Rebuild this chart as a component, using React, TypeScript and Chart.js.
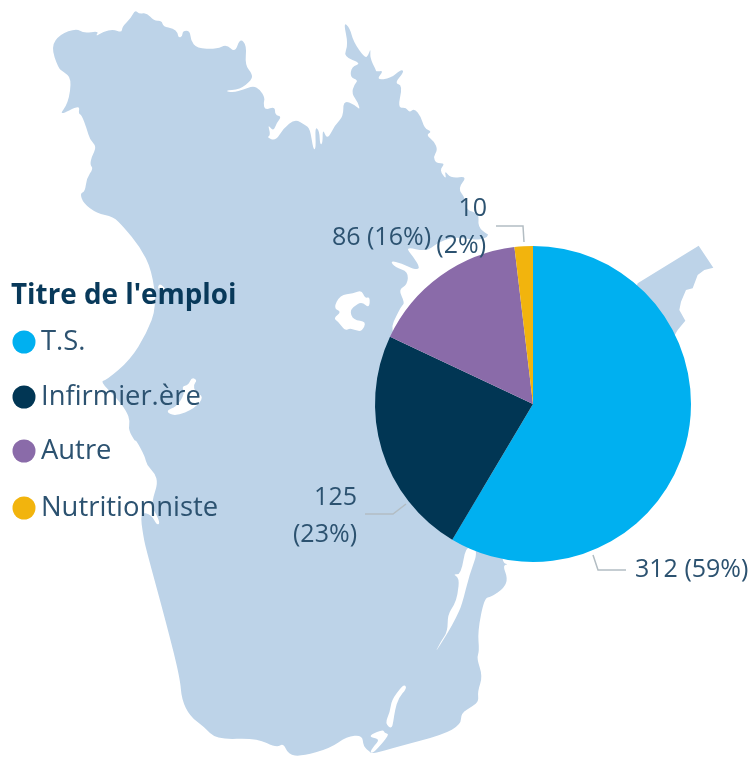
import React, { useEffect, useRef } from "react";
import { Chart, registerables } from "chart.js";

Chart.register(...registerables);

const categories = ["T.S.", "Infirmier.ère", "Autre", "Nutritionniste"];
const values = [312, 125, 86, 10];
const colors = ["#00B0F0", "#013654", "#8A6BA9", "#F2B40D"];
const legendTitle = "Titre de l'emploi";

const MAP_COLOR = "#BDD3E8";
const TEXT_COLOR = "#2C5270";
const TITLE_COLOR = "#08395A";
const LEADER_COLOR = "#B3BDC3";
const FONT = '"Open Sans"';

type P = [number, number];
// Background silhouette, traced at 3x from crops: each run has a crop origin.
const run = (ox: number, oy: number, pts: number[]): P[] => {
  const out: P[] = [];
  for (let i = 0; i < pts.length; i += 2) out.push([ox + pts[i] / 3, oy + pts[i + 1] / 3]);
  return out;
};

const mainland: P[] = [
  ...run(0, 0, [153,140,180,103,230,85,250,100,298,93,285,110,310,95,340,88,365,98,367,80,392,55,405,30,418,42,440,38,462,63,485,62,490,80,520,85,533,98,535,113,547,110,548,92,570,92,572,120,590,145,650,147,680,133,705,158,720,115,740,135,735,195,757,222,755,240,720,268,672,272,700,278,730,268,760,258,780,268,795,295,790,310,795,330,825,320,825,345,845,350,830,368,820,395,803,372,812,405,800,413,828,422,850,385,885,357,915,375,930,385,940,450,948,445,945,380,958,392,960,435,968,430,968,385,982,420,1005,375,1030,350,1030,300,1065,315,1080,330,1075,310,1055,280,1062,255,1075,240,1050,232,1055,200,1085,190,1030,170,1045,135,1030,65,1050,85,1060,125,1095,175,1105,165,1112,145,1110,175,1128,210]),
  ...run(376, 0, [0,215,24,212,0,240,45,235,75,208,85,215,55,250,80,255,65,325,90,322,100,338,115,325,135,350,145,385,168,395,150,405,175,425,185,450,172,470,180,490,208,490,190,510,212,540,205,510,225,535,275,528,245,565,268,595,270,630,310,640,305,680,335,705]),
  ...run(330, 190, [475,130,470,145,430,150,370,140,320,160,290,185,225,170,250,200,272,237,250,237,215,220,180,212,195,232,235,245,232,285,205,298,225,340,212,350,170,440]),
  [450, 400],
  [500, 540],
  ...run(376, 378, [380,556,398,558,380,562,395,600,385,630,345,657,325,660,305,760,310,820,302,840,320,895,305,940,308,970,290,985,255,1005,255,1040,200,1070,70,1105]),
  ...run(330, 640, [125,342,120,335,100,320,97,285,50,290,0,325]),
  ...run(0, 378, [905,1135,865,1130,850,1095,830,1110,770,1080,650,1085,610,1045,570,1015,545,965,540,900,500,740,440,520]),
  ...run(110, 440, [100,290,90,215,125,225,140,255,150,250,140,225,125,200,130,170,143,130,135,100,110,75,105,50,78,0]),
  ...run(0, 378, [405,190,385,155,390,130,380,100,350,60,300,10]),
  ...run(0, 0, [320,1140,390,1080,440,1000,470,920,455,810,420,740,370,680,340,650,290,640,250,610,240,580,255,575,260,535,280,505,270,495,275,470,290,440,270,420,260,385,245,345,235,340,240,315,175,348,205,310,215,235,190,215,175,205]),
];

const gaspe: P[] = [
  ...run(376, 0, [785,850,968,737,1012,803,985,810,965,825,950,865,930,870,915,905,910,930,928,962,905,990,870,1050,700,1100]),
];

const holes: P[][] = [
  run(0, 0, [1000,925,1020,885,1060,880,1085,870,1095,895,1110,890,1108,925,1085,905,1060,920,1050,935,1060,960,1100,965,1085,995,1065,990,1050,985,1035,992,1015,965,1000,955,1025,935]),
  run(140, 350, [155,82,172,90,160,105,165,125,192,140,165,175,105,200,75,183,110,170,135,130,125,110,145,105]),
  run(0, 0, [478,848,500,870,472,870]),
  run(376, 378, [270,500,308,515,280,590,258,680,240,720,215,765,175,828,195,790,215,760,215,710,235,680,245,650,250,600,230,588,255,590]),
  run(330, 640, [225,135,215,140,185,180,180,215,165,250,185,267,190,245,195,210,205,175,230,145]),
  run(330, 640, [120,337,130,320,150,298,122,292,122,284,160,268,163,280,180,282,130,340]),
];

const total = values.reduce((a, b) => a + b, 0);
const pct = (v: number) => `(${Math.round((v / total) * 100)}%)`;

// Label placement relative to the pie centre.
const labelLayout: { lines: { dx: number; dy: number; align: CanvasTextAlign }[]; split: boolean; leader: P[] }[] = [
  { split: false, lines: [{ dx: 102, dy: 166, align: "left" }], leader: [[60, 151], [65, 166], [93, 166]] },
  { split: true, lines: [{ dx: -176, dy: 94, align: "right" }, { dx: -176, dy: 131, align: "right" }], leader: [[-127, 100], [-140, 110], [-168, 110]] },
  { split: false, lines: [{ dx: -102, dy: -166, align: "right" }], leader: [] },
  { split: true, lines: [{ dx: -46, dy: -195, align: "right" }, { dx: -47, dy: -158, align: "right" }], leader: [[-9, -162], [-10, -178], [-37, -178]] },
];

const legendRowsY = [342, 397, 451, 508];
const legendTitleY = 296;

const fillPoly = (ctx: CanvasRenderingContext2D, pts: P[], color: string, smooth = false) => {
  ctx.beginPath();
  if (smooth) {
    const n = pts.length;
    const mid = (a: P, b: P): P => [(a[0] + b[0]) / 2, (a[1] + b[1]) / 2];
    const start = mid(pts[n - 1], pts[0]);
    ctx.moveTo(start[0], start[1]);
    for (let i = 0; i < n; i++) {
      const m = mid(pts[i], pts[(i + 1) % n]);
      ctx.quadraticCurveTo(pts[i][0], pts[i][1], m[0], m[1]);
    }
  } else {
    pts.forEach(([x, y], i) => (i ? ctx.lineTo(x, y) : ctx.moveTo(x, y)));
  }
  ctx.closePath();
  ctx.fillStyle = color;
  ctx.fill();
};

const mapPlugin = {
  id: "mapBackground",
  beforeDraw(chart: any) {
    const ctx: CanvasRenderingContext2D = chart.ctx;
    ctx.save();
    fillPoly(ctx, gaspe, MAP_COLOR);
    fillPoly(ctx, mainland, MAP_COLOR, true);
    holes.forEach((h) => fillPoly(ctx, h, "#FFFFFF", true));
    ctx.restore();
  },
};

const annotationPlugin = {
  id: "labelsAndLegend",
  afterDraw(chart: any) {
    const ctx: CanvasRenderingContext2D = chart.ctx;
    const arcs = chart.getDatasetMeta(0).data;
    const cx = arcs[0].x;
    const cy = arcs[0].y;
    ctx.save();
    ctx.textBaseline = "middle";
    values.forEach((v, i) => {
      const layout = labelLayout[i];
      if (layout.leader.length) {
        ctx.beginPath();
        layout.leader.forEach(([dx, dy], k) => (k ? ctx.lineTo(cx + dx, cy + dy) : ctx.moveTo(cx + dx, cy + dy)));
        ctx.strokeStyle = LEADER_COLOR;
        ctx.lineWidth = 1.5;
        ctx.stroke();
      }
      const texts = layout.split ? [`${v}`, pct(v)] : [`${v} ${pct(v)}`];
      ctx.font = `25px ${FONT}`;
      ctx.fillStyle = TEXT_COLOR;
      texts.forEach((t, k) => {
        const l = layout.lines[k];
        ctx.textAlign = l.align;
        ctx.fillText(t, cx + l.dx, cy + l.dy);
      });
    });
    ctx.textAlign = "left";
    ctx.font = `bold 27.8px ${FONT}`;
    ctx.fillStyle = TITLE_COLOR;
    ctx.fillText(legendTitle, 11, legendTitleY);
    categories.forEach((c, i) => {
      ctx.beginPath();
      ctx.arc(24, legendRowsY[i], 11.5, 0, Math.PI * 2);
      ctx.fillStyle = colors[i];
      ctx.fill();
      ctx.font = `27.4px ${FONT}`;
      ctx.fillStyle = TEXT_COLOR;
      ctx.fillText(c, 41, legendRowsY[i]);
    });
    ctx.restore();
  },
};

export default function App() {
  const ref = useRef<HTMLCanvasElement>(null);
  useEffect(() => {
    const chart = new Chart(ref.current!, {
      type: "pie",
      data: {
        labels: categories,
        datasets: [{ data: values, backgroundColor: colors, borderWidth: 0 }],
      },
      options: {
        animation: false,
        responsive: false,
        layout: { padding: { left: 375, right: 62, top: 246, bottom: 195 } },
        plugins: { legend: { display: false }, tooltip: { enabled: false } },
      },
      plugins: [mapPlugin, annotationPlugin],
    });
    return () => chart.destroy();
  }, []);
  return (
    <canvas
      ref={ref}
      width={753}
      height={757}
      style={{ position: "fixed", left: 0, top: 0, filter: "blur(0.5px)" }}
    />
  );
}
